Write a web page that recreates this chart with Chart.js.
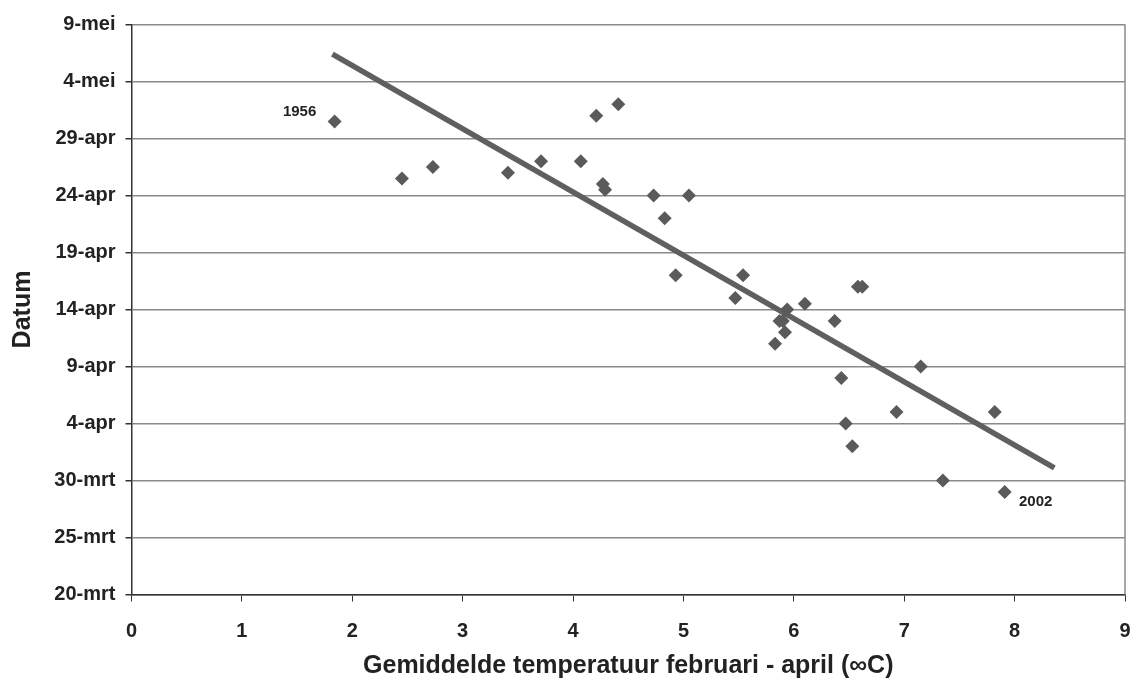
<!DOCTYPE html>
<html>
<head>
<meta charset="utf-8">
<script src="https://cdn.jsdelivr.net/npm/chart.js@4"></script>
<style>
  html, body { margin: 0; padding: 0; background: #fff; }
  #wrap { width: 1132px; height: 678px; }
</style>
</head>
<body>
<div id="wrap"><canvas id="chart" width="1132" height="678"></canvas></div>
<script>
// temperature (°C) per year, and flowering date as days after 20 March
const tempValues = [1.84, 2.45, 2.73, 3.41, 3.71, 4.07, 4.21, 4.41, 4.27, 4.29, 4.73, 5.05, 4.83, 4.93,
                    5.54, 5.47, 5.94, 6.10, 5.87, 5.90, 5.92, 5.83, 6.37, 6.58, 6.62, 7.15, 6.43, 6.93,
                    7.82, 6.47, 6.53, 7.35, 7.91];
const dayValues  = [41.5, 36.5, 37.5, 37, 38, 38, 42, 43, 36, 35.5, 35, 35, 33, 28,
                    28, 26, 25, 25.5, 24, 24, 23, 22, 24, 27, 27, 20, 19, 16,
                    16, 15, 13, 10, 9];

// trend line end points
const trendX = [1.82, 8.36];
const trendY = [47.4, 11.1];

// y tick labels, every 5 days from 20-mrt
const yTickLabels = ['20-mrt', '25-mrt', '30-mrt', '4-apr', '9-apr', '14-apr',
                     '19-apr', '24-apr', '29-apr', '4-mei', '9-mei'];

// year labels next to two points
const labelText = ['1956', '2002'];
const labelPointIndex = [0, 32];

const FONT = '"Liberation Sans", Arial, sans-serif';

const points = tempValues.map((x, i) => ({ x: x, y: dayValues[i] }));
const trend = trendX.map((x, i) => ({ x: x, y: trendY[i] }));

// right border of the plot and year annotations
const extrasPlugin = {
    id: 'extras',
    afterDraw(chart) {
        const ctx = chart.ctx;
        const area = chart.chartArea;
        ctx.save();
        ctx.strokeStyle = '#8a8a8a';
        ctx.lineWidth = 1.5;
        ctx.beginPath();
        ctx.moveTo(area.right, area.top);
        ctx.lineTo(area.right, area.bottom);
        ctx.stroke();

        const xs = chart.scales.x, ys = chart.scales.y;
        const offsets = [[-35, -10], [31, 9.5]];
        ctx.fillStyle = '#222';
        ctx.font = 'bold 15px ' + FONT;
        ctx.textAlign = 'center';
        ctx.textBaseline = 'middle';
        labelText.forEach((t, i) => {
            const p = points[labelPointIndex[i]];
            ctx.fillText(t, xs.getPixelForValue(p.x) + offsets[i][0], ys.getPixelForValue(p.y) + offsets[i][1]);
        });
        ctx.restore();
    }
};

new Chart(document.getElementById('chart').getContext('2d'), {
    type: 'scatter',
    data: {
        datasets: [
            {
                data: points,
                pointStyle: 'rectRot',
                pointRadius: 7,
                pointBorderWidth: 0,
                backgroundColor: '#5a5a5a',
                borderColor: '#5a5a5a'
            },
            {
                data: trend,
                showLine: true,
                pointRadius: 0,
                borderColor: '#5f5f5f',
                borderWidth: 5.5,
                borderCapStyle: 'butt'
            }
        ]
    },
    options: {
        responsive: false,
        animation: false,
        layout: { padding: { top: 24.5, right: 5, left: 0, bottom: 0 } },
        plugins: {
            legend: { display: false },
            tooltip: { enabled: false }
        },
        scales: {
            x: {
                type: 'linear',
                min: 0,
                max: 9,
                afterFit(scale) {
                    scale.height = 83.5;
                    scale.paddingLeft = 0;
                    scale.paddingRight = 0;
                },
                ticks: {
                    stepSize: 1,
                    padding: 18,
                    color: '#222',
                    font: { family: FONT, size: 20, weight: 'bold' }
                },
                grid: { drawOnChartArea: false, drawTicks: true, tickLength: 7, tickColor: '#333' },
                border: { color: '#333', width: 1.5 },
                title: {
                    display: true,
                    text: 'Gemiddelde temperatuur februari - april (∞C)',
                    color: '#222',
                    font: { family: FONT, size: 25, weight: 'bold', lineHeight: 0.8 },
                    padding: { top: 0, bottom: 1.5 }
                }
            },
            y: {
                type: 'linear',
                min: 0,
                max: 50,
                afterFit(scale) {
                    scale.width = 131.5;
                    scale.paddingTop = 0;
                    scale.paddingBottom = 0;
                },
                ticks: {
                    stepSize: 5,
                    padding: 10,
                    color: '#222',
                    font: { family: FONT, size: 20, weight: 'bold' },
                    callback: (v) => yTickLabels[Math.round(v / 5)]
                },
                grid: { color: '#8a8a8a', lineWidth: 1.5, drawTicks: true, tickLength: 6, tickColor: '#333' },
                border: { color: '#333', width: 1.5 },
                title: {
                    display: true,
                    text: 'Datum',
                    color: '#222',
                    font: { family: FONT, size: 25, weight: 'bold' },
                    padding: { top: 8.5, bottom: 0 }
                }
            }
        }
    },
    plugins: [extrasPlugin]
});
</script>
</body>
</html>
